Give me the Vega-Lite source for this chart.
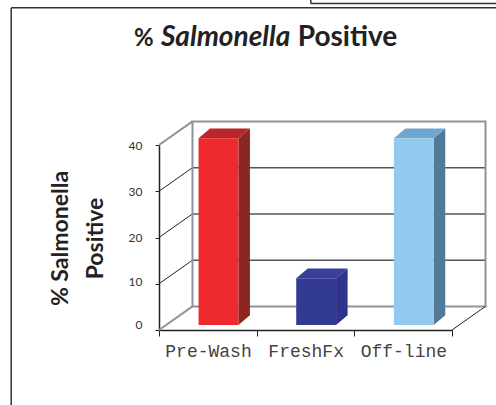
{
"$schema":"https://vega.github.io/schema/vega-lite/v6.json",
"width":293,"height":185,
"autosize":"none",
"padding":{"left":159,"top":145,"right":44,"bottom":75},
"background":"white",
"datasets":{
 "bars":[{"category":"Pre-Wash","slot":0,"value":40.4},{"category":"FreshFx","slot":1,"value":10.1},{"category":"Off-line","slot":2,"value":40.4}],
 "ticks":[{"tick":10},{"tick":20},{"tick":30}],
 "one":[{"item":"decor"}]
},
"resolve":{"scale":{"fill":"independent","color":"independent"}},
"layer":[
{"data":{"name":"ticks"},"transform":[{"calculate":"datum.tick+5.1","as":"back"}],
 "mark":{"type":"rule","color":"#222","strokeWidth":1},
 "encoding":{
  "x":{"datum":0,"type":"quantitative","scale":{"domain":[0,3],"nice":false,"zero":false},
   "axis":{"title":null,"values":[0,1,2,3],"grid":false,"domainColor":"#222","domainWidth":1.5,"tickColor":"#222","tickSize":6,"tickWidth":1,
    "labelExpr":"['Pre-Wash','FreshFx','Off-line',''][datum.value]","labelFont":"Liberation Mono","labelFontSize":18,"labelColor":"#444","labelOffset":49,"labelPadding":6,"labelOverlap":false,"labelBound":false,"labelFlush":false,"labelAlign":"center"}},
  "x2":{"datum":0.343},
  "y":{"field":"tick","type":"quantitative","scale":{"domain":[0,40],"nice":false},
   "axis":{"title":["% Salmonella","Positive"],"titleFont":"Lato","titleFontSize":23,"titleFontWeight":"bold","titleColor":"#222","titleLineHeight":35,"titleAngle":-90,"titleX":-87,"titleY":93,"titleAlign":"center",
    "values":[0,10,20,30,40],"grid":false,"domainColor":"#222","domainWidth":1.5,"tickColor":"#222","tickSize":4,"tickWidth":1,
    "labelFont":"Lato","labelFontSize":12,"labelColor":"#333","labelPadding":13,"labelOffset":{"expr":"datum.value==0?-6:datum.value==10?-2:0"}}},
  "y2":{"field":"back"}
 }},
{"data":{"name":"ticks"},"transform":[{"calculate":"datum.tick+5.1","as":"back"}],
 "mark":{"type":"rule","color":"#555","strokeWidth":1.5},
 "encoding":{"x":{"datum":0.343,"type":"quantitative"},"x2":{"datum":3.343},"y":{"field":"back","type":"quantitative"}}},
{"data":{"name":"one"},"mark":{"type":"rect","fill":null,"stroke":"#8A949E","strokeWidth":2},
 "encoding":{"x":{"datum":0.343,"type":"quantitative"},"x2":{"datum":3.343},"y":{"datum":5.1,"type":"quantitative"},"y2":{"datum":45.1}}},
{"data":{"name":"one"},"mark":{"type":"rule","color":"#8A949E","strokeWidth":2},
 "encoding":{"x":{"datum":0,"type":"quantitative"},"x2":{"datum":0.343},"y":{"datum":40,"type":"quantitative"},"y2":{"datum":45.1}}},
{"data":{"name":"one"},"mark":{"type":"rule","color":"#8A949E","strokeWidth":2},
 "encoding":{"x":{"datum":0,"type":"quantitative"},"x2":{"datum":0.343},"y":{"datum":0,"type":"quantitative"},"y2":{"datum":5.1}}},
{"data":{"name":"one"},"mark":{"type":"rule","color":"#222","strokeWidth":1},
 "encoding":{"x":{"datum":3,"type":"quantitative"},"x2":{"datum":3.343},"y":{"datum":0,"type":"quantitative"},"y2":{"datum":5.1}}},
{"data":{"name":"bars"},
 "transform":[{"calculate":"datum.slot+0.813","as":"right"},{"calculate":"[0,1]","as":"depth"},{"flatten":["depth"]},
  {"calculate":"datum.right+0.118*datum.depth","as":"px"},{"calculate":"1.08+2.1*datum.depth","as":"lo"},{"calculate":"datum.value+1.08+2.1*datum.depth","as":"hi"}],
 "mark":{"type":"area","orient":"vertical"},
 "encoding":{"x":{"field":"px","type":"quantitative"},"y":{"field":"hi","type":"quantitative","stack":null},"y2":{"field":"lo"},
  "color":{"field":"category","type":"nominal","legend":null,"scale":{"domain":["Pre-Wash","FreshFx","Off-line"],"range":["#8B2620","#2E338C","#527A98"]}}}},
{"layer":[
{"data":{"name":"bars"},
 "transform":[{"calculate":"[0,1,2,3]","as":"stop"},{"flatten":["stop"]},
  {"calculate":"datum.slot+[0.405,0.523,0.813,0.931][datum.stop]","as":"px"},
  {"calculate":"datum.value+1.08+[0,2.1,2.1,2.1][datum.stop]","as":"hi"},
  {"calculate":"datum.value+1.08+[0,0,0,2.1][datum.stop]","as":"lo"}],
 "mark":{"type":"area","orient":"vertical"},
 "encoding":{"x":{"field":"px","type":"quantitative"},"y":{"field":"hi","type":"quantitative","stack":null},"y2":{"field":"lo"},
  "detail":{"field":"category"},
  "fill":{"field":"category","type":"nominal","legend":null,"scale":{"domain":["Pre-Wash","FreshFx","Off-line"],"range":["#B9252B","#3A3F9A","#6EA6CF"]}}}}
]},
{"data":{"name":"bars"},
 "transform":[{"calculate":"datum.slot+0.405","as":"left"},{"calculate":"datum.slot+0.813","as":"right"},{"calculate":"datum.value+1.08","as":"top"},{"calculate":"1.08","as":"bottom"}],
 "mark":{"type":"rect"},
 "encoding":{"x":{"field":"left","type":"quantitative"},"x2":{"field":"right"},"y":{"field":"top","type":"quantitative"},"y2":{"field":"bottom"},
  "color":{"field":"category","type":"nominal","legend":null,"scale":{"domain":["Pre-Wash","FreshFx","Off-line"],"range":["#EE2A2E","#333A94","#93C9EE"]}}}},
{"data":{"name":"one"},"mark":{"type":"rule","color":"#333","strokeWidth":1.5},
 "encoding":{"x":{"datum":-1.513,"type":"quantitative"},"x2":{"datum":3.45},"y":{"datum":69.7,"type":"quantitative"}}},
{"data":{"name":"one"},"mark":{"type":"rule","color":"#333","strokeWidth":1.5},
 "encoding":{"x":{"datum":-1.513,"type":"quantitative"},"y":{"datum":69.7,"type":"quantitative"},"y2":{"datum":-16.3}}},
{"data":{"name":"one"},"mark":{"type":"rule","color":"#333","strokeWidth":1.5},
 "encoding":{"x":{"datum":1.554,"type":"quantitative"},"x2":{"datum":3.45},"y":{"datum":70.6,"type":"quantitative"}}},
{"data":{"name":"one"},"mark":{"type":"rule","color":"#333","strokeWidth":1.5},
 "encoding":{"x":{"datum":1.554,"type":"quantitative"},"y":{"datum":70.6,"type":"quantitative"},"y2":{"datum":71.4}}},
{"data":{"name":"one"},"mark":{"type":"text","text":"%","font":"Lato","fontSize":24,"fontWeight":"bold","color":"#222","align":"left","baseline":"alphabetic"},
 "encoding":{"x":{"datum":-0.256,"type":"quantitative"},"y":{"datum":61.4,"type":"quantitative"}}},
{"data":{"name":"one"},"mark":{"type":"text","text":"Salmonella","font":"Lato","fontSize":28,"fontWeight":"bold","fontStyle":"italic","color":"#222","align":"left","baseline":"alphabetic"},
 "encoding":{"x":{"datum":0.02,"type":"quantitative"},"y":{"datum":61.4,"type":"quantitative"}}},
{"data":{"name":"one"},"mark":{"type":"text","text":"Positive","font":"Lato","fontSize":28,"fontWeight":"bold","color":"#222","align":"left","baseline":"alphabetic"},
 "encoding":{"x":{"datum":1.421,"type":"quantitative"},"y":{"datum":61.4,"type":"quantitative"}}}
],
"config":{"view":{"stroke":null}}
}
